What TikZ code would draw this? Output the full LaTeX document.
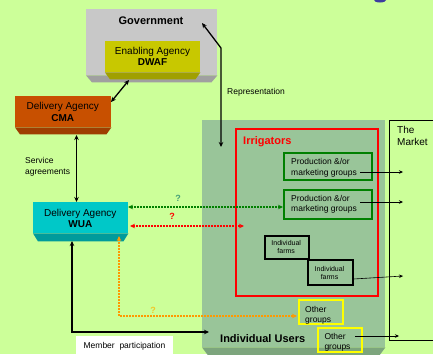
\documentclass[tikz,border=0pt]{standalone}
\usepackage{fontspec}
\setmainfont{Liberation Sans}
\usetikzlibrary{arrows.meta}
\definecolor{bg}{RGB}{204,255,153}
\definecolor{govface}{RGB}{200,200,200}
\definecolor{govbev}{RGB}{160,160,160}
\definecolor{dwafface}{RGB}{200,200,0}
\definecolor{dwafbev}{RGB}{160,160,0}
\definecolor{cmaface}{RGB}{200,80,0}
\definecolor{cmabev}{RGB}{158,62,0}
\definecolor{wuaface}{RGB}{0,200,200}
\definecolor{wuabev}{RGB}{0,155,155}
\definecolor{usrface}{RGB}{153,197,153}
\definecolor{usrbev}{RGB}{125,165,125}
\definecolor{grn}{RGB}{0,128,0}
\definecolor{qgrn}{RGB}{70,160,120}
\definecolor{org}{RGB}{255,153,0}
\definecolor{qorg}{RGB}{240,200,40}
\definecolor{yel}{RGB}{255,255,0}
\definecolor{dotblue}{RGB}{60,60,160}
\tikzset{
  facebox/.style={draw=none, minimum width=#1, inner sep=0pt, anchor=north west},
  lbl/.style={inner sep=0pt, font=\fontsize{10}{12}\selectfont},
  lblb/.style={inner sep=0pt, font=\bfseries\fontsize{11}{13}\selectfont},
  small/.style={inner sep=0pt, font=\fontsize{8.5}{10}\selectfont},
  tiny/.style={inner sep=0pt, font=\fontsize{7}{8}\selectfont},
  qm/.style={inner sep=0pt, font=\bfseries\fontsize{9}{10}\selectfont},
  frame/.style={fill=none, line width=#1, inner sep=0pt, anchor=north west},
  arr/.style={line width=1.3pt, {Stealth[length=5pt,width=4.5pt]}-{Stealth[length=5pt,width=4.5pt]}},
  dotarr/.style={line width=1.5pt, dash pattern=on 1.5pt off 1.5pt, {Stealth[length=5pt,width=4.5pt]}-{Stealth[length=5pt,width=4.5pt]}},
  mkt/.style={line width=0.6pt, -{Stealth[length=4pt,width=3.5pt]}}
}
\begin{document}
\begin{tikzpicture}[x=1pt,y=-1pt]
\useasboundingbox (0,0) rectangle (433,354);
\clip (0,0) rectangle (433,354);
\fill[bg] (0,0) rectangle (433,354);
\fill[dotblue] (380,0) ellipse (6 and 2.5);

% Government
\node[facebox=131pt, minimum height=66pt, fill=govface] (gov) at (86,9) {};
\fill[govbev] (gov.south west) -- (gov.south east) -- ([xshift=-6pt,yshift=-7pt]gov.south east) -- ([xshift=6pt,yshift=-7pt]gov.south west) -- cycle;
\node[lblb, anchor=base] (govt) at (151,24) {Government};

% DWAF
\node[facebox=95pt, minimum height=31pt, fill=dwafface] (dwaf) at (105,41) {};
\fill[dwafbev] (dwaf.south west) -- (dwaf.south east) -- ([xshift=-5pt,yshift=-7pt]dwaf.south east) -- ([xshift=5pt,yshift=-7pt]dwaf.south west) -- cycle;
\node[lbl, anchor=base] (dwaft1) at (152.5,54.5) {Enabling Agency};
\node[lbl, anchor=base, font=\bfseries\fontsize{10}{12}\selectfont] (dwaft2) at (152.5,65.5) {DWAF};

% CMA
\node[facebox=96pt, minimum height=31pt, fill=cmaface] (cma) at (15,96) {};
\fill[cmabev] (cma.south west) -- (cma.south east) -- ([xshift=-5pt,yshift=-7pt]cma.south east) -- ([xshift=5pt,yshift=-7pt]cma.south west) -- cycle;
\node[lbl, anchor=base] (cmat1) at (62.8,109.5) {Delivery Agency};
\node[lbl, anchor=base, font=\bfseries\fontsize{10}{12}\selectfont] (cmat2) at (62.8,121.5) {CMA};

% WUA
\node[facebox=95pt, minimum height=31pt, fill=wuaface] (wua) at (33,202) {};
\fill[wuabev] (wua.south west) -- (wua.south east) -- ([xshift=-5pt,yshift=-8pt]wua.south east) -- ([xshift=5pt,yshift=-8pt]wua.south west) -- cycle;
\node[lbl, anchor=base] (wuat1) at (80.3,216.5) {Delivery Agency};
\node[lbl, anchor=base, font=\bfseries\fontsize{10}{12}\selectfont] (wuat2) at (80.3,227.5) {WUA};

% Individual users
\node[facebox=183pt, minimum height=227pt, fill=usrface] (usr) at (202,120) {};
\fill[usrbev] (usr.south west) -- (usr.south east) -- ([xshift=-6pt,yshift=-8pt]usr.south east) -- ([xshift=6pt,yshift=-8pt]usr.south west) -- cycle;
\node[lblb, anchor=base west] (usrt) at (220,342) {Individual Users};

% Market
\node[frame=1pt, draw=black, minimum width=60pt, minimum height=220pt] (mkt) at (389,120) {};
\node[lbl, anchor=base west] (mktt1) at (397,133.5) {The};
\node[lbl, anchor=base west] (mktt2) at (397,145.5) {Market};

% Irrigators
\node[frame=2pt, draw=red, minimum width=142pt, minimum height=167pt] (irr) at (235,128) {};
\node[lblb, anchor=base west, text=red] (irrt) at (243,144) {Irrigators};

% Production groups
\node[frame=1.5pt, draw=grn, minimum width=88pt, minimum height=27pt] (prod1) at (283,152) {};
\node[small, anchor=base west] (p1a) at (291,164) {Production \&/or};
\node[small, anchor=base west] (p1b) at (291,175) {marketing groups};
\node[frame=1.5pt, draw=grn, minimum width=88pt, minimum height=29pt] (prod2) at (283,189) {};
\node[small, anchor=base west] (p2a) at (291,201.3) {Production \&/or};
\node[small, anchor=base west] (p2b) at (291,211.3) {marketing groups};

% Farms
\node[frame=1.5pt, draw=black, minimum width=44pt, minimum height=23pt] (farm1) at (264,235) {};
\node[tiny, anchor=base] (f1a) at (286.2,245.5) {Individual};
\node[tiny, anchor=base] (f1b) at (286.2,253.5) {farms};
\node[frame=1.5pt, draw=black, minimum width=45pt, minimum height=25pt] (farm2) at (307,259) {};
\node[tiny, anchor=base] (f2a) at (329.5,271) {Individual};
\node[tiny, anchor=base] (f2b) at (329.5,279) {farms};

% Other groups
\node[frame=1.5pt, draw=yel, minimum width=44pt, minimum height=24pt] (oth1) at (298,299) {};
\node[small, anchor=base west] (o1a) at (305,312) {Other};
\node[small, anchor=base west] (o1b) at (305,322) {groups};
\node[frame=1.5pt, draw=yel, minimum width=44pt, minimum height=24pt] (oth2) at (317,327) {};
\node[small, anchor=base west] (o2a) at (324.3,339) {Other};
\node[small, anchor=base west] (o2b) at (324.3,349.5) {groups};

% Member participation label
\node[fill=white, minimum width=97pt, minimum height=22pt, inner sep=0pt, anchor=north west] (mbox) at (76,336) {};
\node[small, anchor=base] (mbt) at (124.5,348) {Member\ \ participation};

% Side labels
\node[small, anchor=base west] (sa1) at (25,163) {Service};
\node[small, anchor=base west] (sa2) at (25,174) {agreements};
\node[small, anchor=base west] (rep) at (227,94) {Representation};

% Connector end points
\coordinate (dwafb) at (129,80);
\coordinate (cmar) at (111,102);
\coordinate (cmab) at (76.5,135);
\coordinate (wuat) at (76.5,202);
\coordinate (repg) at (202,23);
\coordinate (repk) at (221,48);
\coordinate (repu) at (221,147);
\coordinate (wuab) at (72,241);
\coordinate (mpk) at (72,332);
\coordinate (mpu) at (209,332);
\coordinate (gw) at (128,207);
\coordinate (gp) at (283,207);
\coordinate (rw) at (130,226);
\coordinate (ri) at (244,226);
\coordinate (ow) at (119,236);
\coordinate (ok) at (119,316);
\coordinate (oo) at (297,316);

\draw[arr] (dwafb) -- (cmar);
\draw[arr] (cmab) -- (wuat);
\draw[arr] (repg) -- (repk) -- (repu);
\draw[arr] (wuab) -- (mpk) -- (mpu);
\draw[dotarr, grn] (gw) -- (gp);
\draw[dotarr, red] (rw) -- (ri);
\draw[dotarr, org] (ow) -- (ok) -- (oo);

\node[qm, anchor=base, text=qgrn] (q1) at (178,201) {?};
\node[qm, anchor=base, text=red] (q2) at (172,219) {?};
\node[qm, anchor=base, text=qorg] (q3) at (153,313) {?};

% Market arrows
\coordinate (m1) at (403,172);
\coordinate (m2) at (403,202);
\coordinate (m3) at (403,276);
\coordinate (m4) at (399,336);
\draw[mkt] (360,172) -- (m1);
\draw[mkt] (360,202) -- (m2);
\draw[mkt] (farm2.east |- 0,279) -- (m3);
\draw[mkt] (355,336) -- (m4);
\end{tikzpicture}
\end{document}
